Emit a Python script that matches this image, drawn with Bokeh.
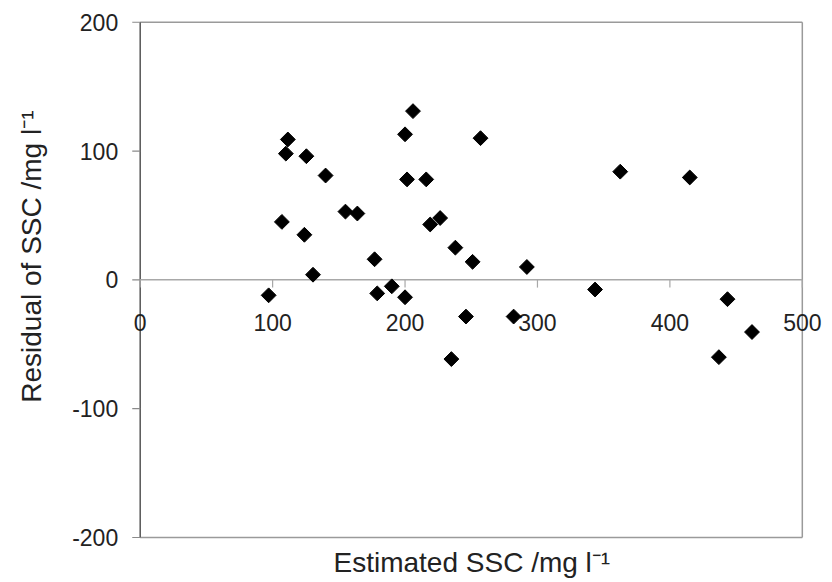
from bokeh.plotting import figure
from bokeh.models import Range1d, Title
from bokeh.core.properties import value
from bokeh.embed import file_html
from bokeh.resources import INLINE

# Data
est_ssc = [97, 107, 110, 111.5, 124, 125.5, 130.5, 140, 155, 164, 177, 179, 190,
           200, 200, 201.5, 206, 216, 219, 226.5, 235, 238, 246, 251, 257, 282,
           292, 343.5, 362.5, 415, 437, 443.5, 462]
residual = [-12, 45, 98, 109, 35, 96, 4, 81, 53, 51.5, 16, -10.5, -5,
            -13.5, 113, 78, 131, 78, 43, 48, -61.5, 25, -28.5, 14, 110, -28.5,
            10, -7.5, 84, 79.5, -60, -15, -40.5]
x_ticks = [0, 100, 200, 300, 400, 500]
y_ticks = [-200, -100, 0, 100, 200]
x_title = "Estimated SSC /mg l\u207b\u00b9"
y_title = "Residual of SSC /mg l\u207b\u00b9"

X_MIN, X_MAX = 0, 500
Y_MIN, Y_MAX = -200, 200

FONT = "Liberation Sans"
TXT = "#222222"
BOX = "#9a9a9a"
ZERO = "#a8a8a8"
TICK_LEN_X = 6   # data units (~8 px)
TICK_LEN_Y = 6   # data units (~8 px)

# The frame is larger than the plot box so that tick labels are not clipped;
# the axes are drawn at the box edges.
p = figure(frame_width=776, frame_height=541,
           x_range=Range1d(-70, 516), y_range=Range1d(-207, 213),
           x_axis_location=None, y_axis_location=None,
           output_backend="svg", toolbar_location=None,
           min_border_left=47, min_border_right=5, min_border_top=5, min_border_bottom=36)
p.grid.visible = False
p.outline_line_color = None
p.background_fill_color = "white"
p.border_fill_color = "white"

# axis titles
p.add_layout(Title(text=y_title, align="right", offset=105, vertical_align="middle",
                   standoff=0, text_font=FONT, text_font_size="28px",
                   text_font_style="normal", text_color=TXT), "left")
p.add_layout(Title(text=x_title, align="left", offset=286, vertical_align="top",
                   standoff=0, text_font=FONT, text_font_size="28px",
                   text_font_style="normal", text_color=TXT), "below")

# plot box: top, right, bottom
p.segment(x0=[X_MIN, X_MAX, X_MIN], y0=[Y_MAX, Y_MIN, Y_MIN],
          x1=[X_MAX, X_MAX, X_MAX], y1=[Y_MAX, Y_MAX, Y_MIN],
          line_color=BOX, line_width=1.5)

# y axis at x = 0
p.segment(x0=[X_MIN], y0=[Y_MIN], x1=[X_MIN], y1=[Y_MAX], line_color="#555555", line_width=1.5)
p.segment(x0=[X_MIN] * len(y_ticks), y0=y_ticks, x1=[X_MIN - TICK_LEN_Y] * len(y_ticks),
          y1=y_ticks, line_color="#8a8a8a", line_width=1.2)
p.text(x=[X_MIN] * len(y_ticks), y=y_ticks, text=[str(t) for t in y_ticks],
       text_font=value(FONT), text_font_size="23px", text_color=TXT,
       text_align="right", text_baseline="middle", x_offset=-22)

# zero line acting as x axis, with its ticks and labels
p.segment(x0=[X_MIN], y0=[0], x1=[X_MAX], y1=[0], line_color=ZERO, line_width=1.5)
p.segment(x0=x_ticks, y0=[0] * len(x_ticks), x1=x_ticks, y1=[-TICK_LEN_X] * len(x_ticks),
          line_color=ZERO, line_width=1.2)
p.text(x=x_ticks, y=[0] * len(x_ticks), text=[str(t) for t in x_ticks],
       text_font=value(FONT), text_font_size="23px", text_color=TXT,
       text_align="center", text_baseline="top", y_offset=34)

# points
p.scatter(est_ssc, residual, marker="square", angle=0.7853981634, size=10.5,
          fill_color="black", line_color="black", line_width=1)

open("out.html", "w").write(file_html(p, INLINE))
